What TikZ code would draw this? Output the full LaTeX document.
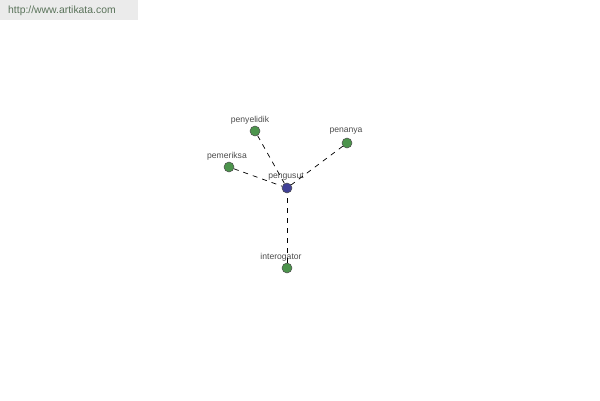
\documentclass[tikz,border=0pt]{standalone}
\usepackage{fontspec}
\setmainfont{Liberation Sans}
\begin{document}
\begin{tikzpicture}[x=1pt,y=-1pt,
  vtx/.style={circle,draw=black!70,line width=0.5pt,fill=green!40!black!70!white,minimum size=10pt,inner sep=0pt},
  hub/.style={circle,draw=black!70,line width=0.5pt,fill=blue!45!black!75!white,minimum size=10pt,inner sep=0pt},
  lbl/.style={font=\fontsize{8.6}{9}\selectfont,text=black!70,inner sep=0pt},
  link/.style={line width=0.7pt,dash pattern=on 5pt off 5pt}]
\useasboundingbox (0,0) rectangle (600,400);
\fill[black!8] (0,0) rectangle (138,20);
\node[anchor=west,font=\fontsize{10.4}{11}\selectfont,text=green!15!black!65,inner sep=0pt] (url) at (8,11) {http://www.artikata.com};
\node[hub] (c) at (287,188) {};
\node[vtx] (a) at (255,131) {};
\node[vtx] (b) at (347,143) {};
\node[vtx] (d) at (229,167) {};
\node[vtx] (e) at (287,268) {};
\node[lbl] (lc) at (286,177) {pengusut};
\node[lbl] (la) at (250,120) {penyelidik};
\node[lbl] (lb) at (346,131) {penanya};
\node[lbl] (ld) at (227,156) {pemeriksa};
\node[lbl] (le) at (281,257) {interogator};
\draw[link] (a) -- (c);
\draw[link] (b) -- (c);
\draw[link] (d) -- (c);
\draw[link] (e) -- (c);
\end{tikzpicture}
\end{document}
